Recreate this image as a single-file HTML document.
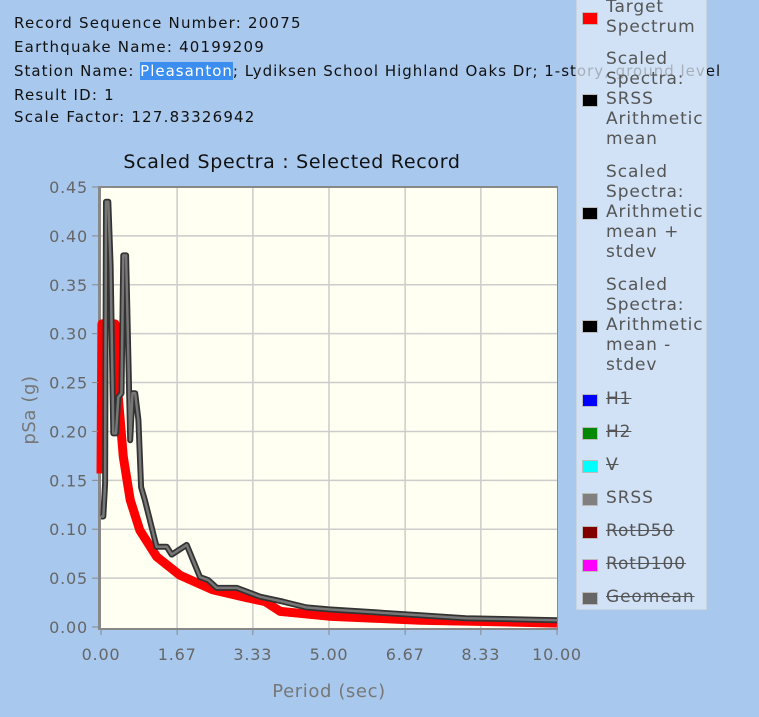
<!DOCTYPE html>
<html><head><meta charset="utf-8"><style>
body{margin:0;width:759px;height:717px;background:#a8c8ee;overflow:hidden;position:relative;font-family:"DejaVu Sans","Liberation Sans",sans-serif;}
.info{position:absolute;left:14px;font-size:15px;letter-spacing:1.2px;color:#111;white-space:nowrap;line-height:18px;}
.sel{background:#3b8ef0;color:#fff;}
#legend{position:absolute;left:576px;top:-10px;width:129px;height:618px;background:rgba(225,236,250,0.72);border:1px solid #c8d4e0;}
.li{position:absolute;left:29px;font-size:17px;letter-spacing:0.9px;line-height:20px;color:#555;white-space:nowrap;}
.sw{position:absolute;left:5px;width:14px;height:11px;border:1px solid #bbb;}
.st{text-decoration:line-through;}
</style></head><body>
<div class="info" style="top:14px">Record Sequence Number: 20075</div>
<div class="info" style="top:38px">Earthquake Name: 40199209</div>
<div class="info" style="top:62px;letter-spacing:1.0px">Station Name: <span class="sel">Pleasanton</span>; Lydiksen School Highland Oaks Dr; 1-story, ground level</div>
<div class="info" style="top:86px">Result ID: 1</div>
<div class="info" style="top:108px">Scale Factor: 127.83326942</div>

<svg id="chart" width="759" height="717" style="position:absolute;left:0;top:0">
<text x="292" y="168" text-anchor="middle" font-size="19" letter-spacing="0.7" fill="#111" font-family="DejaVu Sans, sans-serif">Scaled Spectra : Selected Record</text>
<rect x="98" y="186" width="460" height="444" fill="#888"/>
<rect x="101" y="188" width="456" height="440" fill="#fffff2"/>
<g id="grid"></g><g id="series"></g><g id="ticks"></g>
<text x="329" y="697" text-anchor="middle" font-size="18" letter-spacing="0.6" fill="#777" font-family="DejaVu Sans, sans-serif">Period (sec)</text>
<text transform="translate(35,410) rotate(-90)" text-anchor="middle" font-size="18" letter-spacing="0.6" fill="#777" font-family="DejaVu Sans, sans-serif">pSa (g)</text>
</svg>

<div id="legend">
 <div class="sw" style="top:21px;background:#f00"></div>
 <div class="li" style="top:6px">Target<br>Spectrum</div>
 <div class="sw" style="top:103px;background:#000"></div>
 <div class="li" style="top:58px">Scaled<br>Spectra:<br>SRSS<br>Arithmetic<br>mean</div>
 <div class="sw" style="top:216px;background:#000"></div>
 <div class="li" style="top:171px">Scaled<br>Spectra:<br>Arithmetic<br>mean +<br>stdev</div>
 <div class="sw" style="top:329px;background:#000"></div>
 <div class="li" style="top:284px">Scaled<br>Spectra:<br>Arithmetic<br>mean -<br>stdev</div>
 <div class="sw" style="top:403px;background:#00f"></div>
 <div class="li st" style="top:398px">H1</div>
 <div class="sw" style="top:436px;background:#080"></div>
 <div class="li st" style="top:431px">H2</div>
 <div class="sw" style="top:469px;background:#0ff"></div>
 <div class="li st" style="top:464px">V</div>
 <div class="sw" style="top:502px;background:#808080"></div>
 <div class="li" style="top:497px">SRSS</div>
 <div class="sw" style="top:535px;background:#800000"></div>
 <div class="li st" style="top:530px">RotD50</div>
 <div class="sw" style="top:568px;background:#f0f"></div>
 <div class="li st" style="top:563px">RotD100</div>
 <div class="sw" style="top:601px;background:#666"></div>
 <div class="li st" style="top:596px">Geomean</div>
</div>

<script>
const xTicks=[0,1.67,3.33,5,6.67,8.33,10];
const xTickLabels=["0.00","1.67","3.33","5.00","6.67","8.33","10.00"];
const yTicks=[0,0.05,0.1,0.15,0.2,0.25,0.3,0.35,0.4,0.45];
const yTickLabels=["0.00","0.05","0.10","0.15","0.20","0.25","0.30","0.35","0.40","0.45"];
const targetPeriods=[0,0.02,0.31,0.38,0.49,0.64,0.85,1.22,1.73,2.45,3.2,3.6,3.93,5,6,7,8,10];
const targetValues=[0.157,0.31,0.31,0.235,0.174,0.13,0.099,0.072,0.053,0.038,0.03,0.026,0.016,0.011,0.009,0.007,0.006,0.004];
const srssPeriods=[0,0.05,0.09,0.11,0.16,0.21,0.27,0.33,0.38,0.45,0.49,0.55,0.64,0.69,0.75,0.82,0.88,0.96,1.22,1.44,1.55,1.88,2.17,2.35,2.54,2.98,3.49,3.99,4.5,5,6,7,8,10];
const srssValues=[0.113,0.113,0.147,0.435,0.435,0.37,0.198,0.198,0.235,0.239,0.38,0.38,0.191,0.239,0.239,0.212,0.143,0.13,0.082,0.082,0.074,0.084,0.051,0.048,0.04,0.04,0.031,0.026,0.02,0.018,0.015,0.012,0.009,0.007];
const X0=101,X1=557,Y0=627,Y1=187;
const xs=v=>X0+(v/10)*(X1-X0);
const ys=v=>Y0-(v/0.45)*(Y0-Y1);
const NS="http://www.w3.org/2000/svg";
function mk(tag,attrs,parent){const e=document.createElementNS(NS,tag);for(const k in attrs)e.setAttribute(k,attrs[k]);parent.appendChild(e);return e;}
const grid=document.getElementById('grid'),ticks=document.getElementById('ticks'),series=document.getElementById('series');
xTicks.forEach((t,i)=>{
  if(i>0&&i<xTicks.length-1){const g=mk('line',{x1:xs(t),x2:xs(t),y1:188,y2:628,stroke:'#ccc','stroke-width':1.5},grid);
  
  }
  mk('line',{x1:xs(t),x2:xs(t),y1:630,y2:635,stroke:'#888'},ticks);
  const tx=mk('text',{x:xs(t),y:660,'text-anchor':'middle','font-size':16,'letter-spacing':0.8,fill:'#666','font-family':'DejaVu Sans, sans-serif'},ticks);
  tx.textContent=xTickLabels[i];
  
  
});
yTicks.forEach((t,i)=>{
  if(i>0&&i<yTicks.length-1){const g=mk('line',{x1:101,x2:557,y1:ys(t),y2:ys(t),stroke:'#ccc','stroke-width':1.5},grid);
  
  }
  mk('line',{x1:92,x2:98,y1:ys(t),y2:ys(t),stroke:'#888'},ticks);
  const tx=mk('text',{x:88,y:ys(t)+6,'text-anchor':'end','font-size':16,'letter-spacing':0.8,fill:'#666','font-family':'DejaVu Sans, sans-serif'},ticks);
  tx.textContent=yTickLabels[i];
  
  
});
function pts(p,v){return p.map((t,i)=>xs(t).toFixed(1)+','+ys(v[i]).toFixed(1)).join(' ');}
const tl=mk('polyline',{points:pts(targetPeriods,targetValues),fill:'none',stroke:'#f00','stroke-width':9,'stroke-linejoin':'round'},series);


const so=mk('polyline',{points:pts(srssPeriods,srssValues),fill:'none',stroke:'#333','stroke-width':6,'stroke-linejoin':'round'},series);


const si=mk('polyline',{points:pts(srssPeriods,srssValues),fill:'none',stroke:'#777','stroke-width':2.5,'stroke-linejoin':'round'},series);


</script>
</body></html>
